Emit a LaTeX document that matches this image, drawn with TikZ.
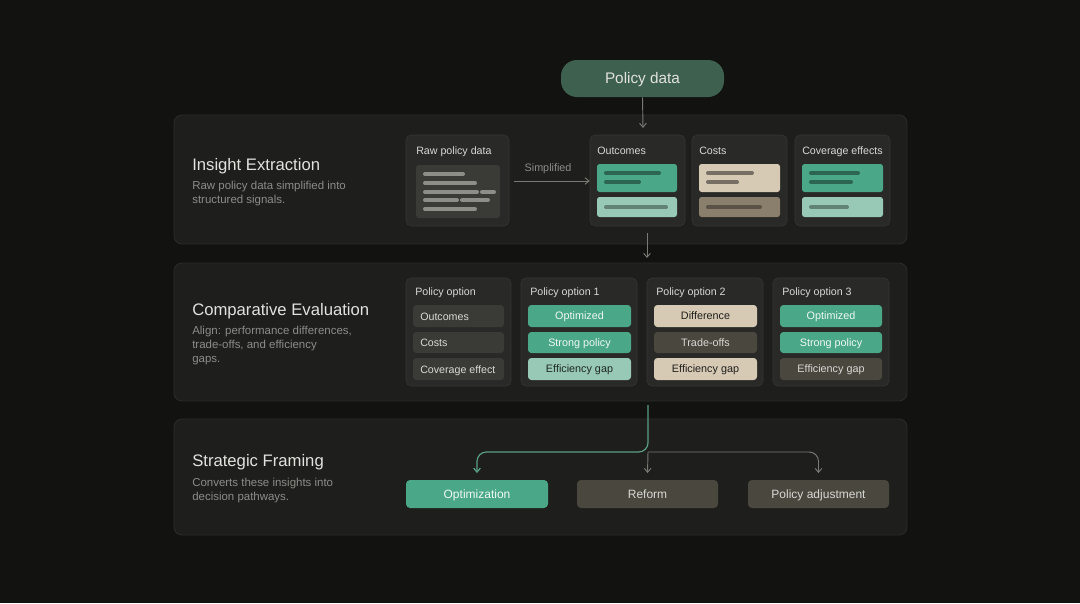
\documentclass[tikz,border=0pt]{standalone}
\usepackage{fontspec}
\setmainfont{Liberation Sans}
\usetikzlibrary{arrows.meta}
\definecolor{bg}{HTML}{121211}
\definecolor{panelfill}{HTML}{1E1E1C}
\definecolor{panelline}{HTML}{2C2C29}
\definecolor{cardfill}{HTML}{292927}
\definecolor{cardline}{HTML}{353532}
\definecolor{rowgray}{HTML}{3A3A37}
\definecolor{pgreen}{HTML}{4AA888}
\definecolor{plight}{HTML}{98C8B6}
\definecolor{pbeige}{HTML}{D6CAB5}
\definecolor{pbrown}{HTML}{8A7E6C}
\definecolor{pdark}{HTML}{4A473F}
\definecolor{pill}{HTML}{3E604F}
\definecolor{titlec}{HTML}{E2E2DE}
\definecolor{subc}{HTML}{8C8C88}
\definecolor{labc}{HTML}{D8D8D4}
\definecolor{conn}{HTML}{7A7A74}
\definecolor{gconn}{HTML}{5A9E84}
\newcommand\bx[7]{%
  \pgfmathsetmacro\cx{(#3+#5)/2}\pgfmathsetmacro\cy{(#4+#6)/2}%
  \pgfmathsetmacro\ww{(#5-#3)*0.75}\pgfmathsetmacro\hh{(#6-#4)*0.75}%
  \node[#2, minimum width=\ww pt, minimum height=\hh pt, inner sep=0pt] (#1) at (\cx,\cy) {#7};}
\begin{document}
\begin{tikzpicture}[x=0.75pt,y=-0.75pt,
  panel/.style={draw=panelline, fill=panelfill, rounded corners=6pt, line width=0.6pt},
  card/.style={draw=cardline, fill=cardfill, rounded corners=4pt, line width=0.5pt},
  rowbox/.style={fill=#1, rounded corners=2.5pt, font=\fontsize{8.1}{9}\selectfont, text height=6.4pt, text depth=1pt},
  title/.style={anchor=west, text=titlec, font=\fontsize{12.5}{14}\selectfont, inner sep=0pt},
  sub/.style={anchor=north west, text=subc, font=\fontsize{8.6}{10.5}\selectfont, inner sep=0pt, align=left},
  clabel/.style={anchor=base west, text=labc, font=\fontsize{8}{9}\selectfont, inner sep=0pt},
  tl/.style={line width=3pt, line cap=round, draw=#1},
  arr/.style={draw=conn, line width=0.7pt, -{Straight Barb[length=3pt,width=5pt]}},
  garr/.style={draw=gconn, line width=0.9pt, -{Straight Barb[length=3pt,width=5pt]}},
  btn/.style={fill=#1, rounded corners=3pt, font=\fontsize{9}{10}\selectfont, text height=7pt, text depth=1pt}
]
\fill[bg] (0,0) rectangle (1080,603);
\useasboundingbox (0,0) rectangle (1080,603);

% Policy data pill
\bx{pd}{fill=pill, rounded corners=12pt, text=titlec, font=\fontsize{11.5}{12}\selectfont, text height=9pt, text depth=1.2pt}{561}{60}{724}{97}{Policy data}

% Panels
\bx{p1}{panel}{174}{115}{907}{244}{}
\bx{p2}{panel}{174}{263}{907}{401}{}
\bx{p3}{panel}{174}{419}{907}{535}{}

% Panel texts
\node[title] (t1) at (192,166) {Insight Extraction};
\node[sub] (s1) at (192,181) {Raw policy data simplified into\\structured signals.};
\node[title] (t2) at (192,311) {Comparative Evaluation};
\node[sub] (s2) at (192,326) {Align: performance differences,\\trade-offs, and efficiency\\gaps.};
\node[title] (t3) at (192,462) {Strategic Framing};
\node[sub] (s3) at (192,478) {Converts these insights into\\decision pathways.};

% Insight extraction cards
\bx{raw}{card}{406}{135}{509}{226}{}
\node[clabel] (rawl) at (416,154) {Raw policy data};
\bx{rawin}{fill=rowgray, rounded corners=2pt}{416}{165}{500}{218}{}
\draw[tl=conn!85!white] (425,174) -- (463,174);
\draw[tl=conn!85!white] (425,183) -- (475,183);
\draw[tl=conn!85!white] (425,192) -- (477,192);
\draw[tl=conn!85!white] (482,192) -- (494,192);
\draw[tl=conn!85!white] (425,200) -- (457,200);
\draw[tl=conn!85!white] (462,200) -- (488,200);
\draw[tl=conn!85!white] (425,209) -- (475,209);

\bx{out}{card}{590}{135}{685}{226}{}
\node[clabel] (outl) at (597,154) {Outcomes};
\bx{outa}{fill=pgreen, rounded corners=2pt}{597}{164}{677}{192}{}
\bx{outb}{fill=plight, rounded corners=2pt}{597}{197}{677}{217}{}
\draw[tl=pgreen!60!black] (606,173) -- (659,173);
\draw[tl=pgreen!60!black] (606,182) -- (639,182);
\draw[tl=plight!65!black] (606,207) -- (666,207);

\bx{cost}{card}{692}{135}{787}{226}{}
\node[clabel] (costl) at (699,154) {Costs};
\bx{costa}{fill=pbeige, rounded corners=2pt}{699}{164}{780}{192}{}
\bx{costb}{fill=pbrown, rounded corners=2pt}{699}{197}{780}{217}{}
\draw[tl=pbeige!55!black] (708,173) -- (752,173);
\draw[tl=pbeige!55!black] (708,182) -- (737,182);
\draw[tl=pbrown!65!black] (708,207) -- (760,207);

\bx{cov}{card}{795}{135}{890}{226}{}
\node[clabel] (covl) at (802,154) {Coverage effects};
\bx{cova}{fill=pgreen, rounded corners=2pt}{802}{164}{883}{192}{}
\bx{covb}{fill=plight, rounded corners=2pt}{802}{197}{883}{217}{}
\draw[tl=pgreen!60!black] (811,173) -- (858,173);
\draw[tl=pgreen!60!black] (811,182) -- (851,182);
\draw[tl=plight!65!black] (811,207) -- (847,207);

% Simplified arrow
\coordinate (sa) at (514,181);
\draw[arr] (sa) -- (out.west |- sa) node[pos=0.45, above=5pt, text=subc, font=\fontsize{8.1}{9}\selectfont, inner sep=0pt] (siml) {Simplified};

% Policy data arrow
\coordinate (pe) at (643,128);
\draw[arr] (pd.south) -- (pe);

% Panel 1 -> panel 2
\coordinate (c1) at (647,233);
\coordinate (c2) at (647,258);
\draw[arr] (c1) -- (c2);

% Comparative evaluation cards
\bx{po}{card}{406}{278}{511}{386}{}
\node[clabel] (pol) at (415,295) {Policy option};
\bx{po1}{rowbox=rowgray, text=labc}{413}{305}{504}{327}{}
\node[clabel] at (420,320) {Outcomes};
\bx{po2}{rowbox=rowgray, text=labc}{413}{332}{504}{353}{}
\node[clabel] at (420,346) {Costs};
\bx{po3}{rowbox=rowgray, text=labc}{413}{358}{504}{380}{}
\node[clabel] at (420,373) {Coverage effect};

\bx{oa}{card}{521}{278}{637}{386}{}
\node[clabel] (oal) at (530,295) {Policy option 1};
\bx{oa1}{rowbox=pgreen, text=white!92!pgreen}{528}{305}{631}{327}{Optimized}
\bx{oa2}{rowbox=pgreen, text=white!92!pgreen}{528}{332}{631}{353}{Strong policy}
\bx{oa3}{rowbox=plight, text=black!80!plight}{528}{358}{631}{380}{Efficiency gap}

\bx{ob}{card}{647}{278}{763}{386}{}
\node[clabel] (obl) at (656,295) {Policy option 2};
\bx{ob1}{rowbox=pbeige, text=black!85!pbeige}{654}{305}{757}{327}{Difference}
\bx{ob2}{rowbox=pdark, text=labc}{654}{332}{757}{353}{Trade-offs}
\bx{ob3}{rowbox=pbeige, text=black!85!pbeige}{654}{358}{757}{380}{Efficiency gap}

\bx{oc}{card}{773}{278}{889}{386}{}
\node[clabel] (ocl) at (782,295) {Policy option 3};
\bx{oc1}{rowbox=pgreen, text=white!92!pgreen}{780}{305}{882}{327}{Optimized}
\bx{oc2}{rowbox=pgreen, text=white!92!pgreen}{780}{332}{882}{353}{Strong policy}
\bx{oc3}{rowbox=pdark, text=labc}{780}{358}{882}{380}{Efficiency gap}

% Strategic framing buttons
\bx{b1}{btn=pgreen, text=white!92!pgreen}{406}{480}{548}{508}{Optimization}
\bx{b2}{btn=pdark, text=labc}{577}{480}{718}{508}{Reform}
\bx{b3}{btn=pdark, text=labc}{748}{480}{889}{508}{Policy adjustment}

% Branching connectors
\coordinate (j) at (648,405);
\coordinate (jm) at (648,452);
\draw[garr, rounded corners=7pt] (j) -- (jm) -- (b1.north |- jm) -- ([yshift=5pt]b1.north);
\draw[arr] (jm) -- ([yshift=5pt]b2.north);
\draw[arr, rounded corners=7pt] (jm) -- (b3.north |- jm) -- ([yshift=5pt]b3.north);
\end{tikzpicture}
\end{document}
